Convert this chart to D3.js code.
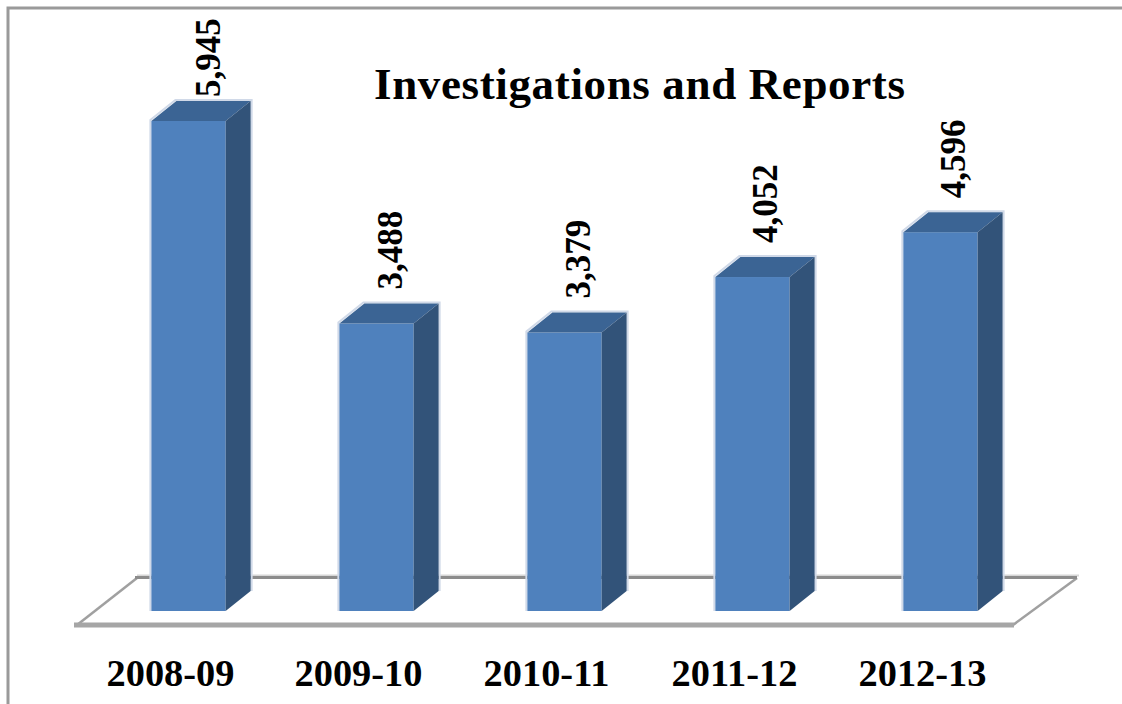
<!DOCTYPE html>
<html><head><meta charset="utf-8">
<script src="https://cdnjs.cloudflare.com/ajax/libs/d3/7.8.5/d3.min.js"></script>
<style>html,body{margin:0;padding:0;background:#fff}svg{display:block}</style>
</head><body><svg id="c" width="1122" height="704"></svg>
<script>
const categories = ["2008-09","2009-10","2010-11","2011-12","2012-13"];
const values = [5945,3488,3379,4052,4596];
const labels = ["5,945","3,488","3,379","4,052","4,596"];
const titleText = "Investigations and Reports";

const svg = d3.select("#c");
const font = "'Liberation Serif','Times New Roman',serif";
const depthX = 25, depthY = 20;
const baseY = 611;
const y = d3.scaleLinear().domain([0,5945]).range([baseY,121]);
const x = d3.scaleBand().domain(categories).range([95,1034]).paddingInner(0.605).paddingOuter(0.3);
const line = d3.line();

// frame
svg.append("path").attr("d",line([[8,704],[8,8],[1122,8]])).attr("fill","none").attr("stroke","#9a9a9a").attr("stroke-width",3);

// floor
const floor = [[77,625],[1013,625],[1077,578],[137,578]];
svg.append("path").attr("d",line([floor[0],floor[3]])).attr("stroke","#a0a0a0").attr("stroke-width",2.5).attr("fill","none");
svg.append("path").attr("d",line([floor[1],floor[2]])).attr("stroke","#a0a0a0").attr("stroke-width",2.5).attr("fill","none");
svg.append("path").attr("d",line([[137,575.5],[1079,575.5]])).attr("stroke","#d6d6d6").attr("stroke-width",2).attr("fill","none");
svg.append("path").attr("d",line([[135,577.5],[1077,577.5]])).attr("stroke","#8c8c8c").attr("stroke-width",3).attr("fill","none");
svg.append("path").attr("d",line([[74,625],[1014,625]])).attr("stroke","#a6a6a6").attr("stroke-width",5).attr("fill","none");

// bars
const g = svg.selectAll("g.bar").data(categories.map((c,i)=>({c,v:values[i],l:labels[i]}))).join("g").attr("class","bar");
const halo = "#d0d9e8";
g.append("path").attr("d",d=>{
  const a=x(d.c),b=a+x.bandwidth(),t=y(d.v);
  return line([[a-1,baseY],[a-1,t-1],[a+depthX-1,t-depthY-1],[b+depthX+1,t-depthY-1],[b+depthX+1,baseY-depthY]]);
}).attr("fill","none").attr("stroke",halo).attr("stroke-width",2);
g.append("rect").attr("x",d=>x(d.c)).attr("y",d=>y(d.v)).attr("width",x.bandwidth()).attr("height",d=>baseY-y(d.v)).attr("fill","#4f81bd");
g.append("path").attr("d",d=>{
  const a=x(d.c),b=a+x.bandwidth(),t=y(d.v);
  return line([[a,t],[a+depthX,t-depthY],[b+depthX,t-depthY],[b,t]])+"Z";
}).attr("fill","#3b6494");
g.append("path").attr("d",d=>{
  const b=x(d.c)+x.bandwidth(),t=y(d.v);
  return line([[b,t],[b+depthX,t-depthY],[b+depthX,baseY-depthY],[b,baseY]])+"Z";
}).attr("fill","#325379");

// value labels: kept inside the frame at the top
g.append("text").attr("transform",d=>`translate(${x(d.c)+x.bandwidth()/2+ (y(d.v)-34<97?31:25)},${Math.max(y(d.v)-34,97)}) rotate(-90)`)
 .attr("font-family",font).attr("font-weight","bold").attr("font-size",35).attr("fill","#000").text(d=>d.l);

// category labels
g.append("text").attr("x",d=>x(d.c)+x.bandwidth()/2-18).attr("y",686).attr("text-anchor","middle")
 .attr("font-family",font).attr("font-weight","bold").attr("font-size",38.4).attr("fill","#000").text(d=>d.c);

// title
svg.append("text").attr("x",374).attr("y",99).attr("font-family",font).attr("font-weight","bold").attr("font-size",45)
 .attr("textLength",531).attr("lengthAdjust","spacing").attr("fill","#000").text(titleText);
</script></body></html>
